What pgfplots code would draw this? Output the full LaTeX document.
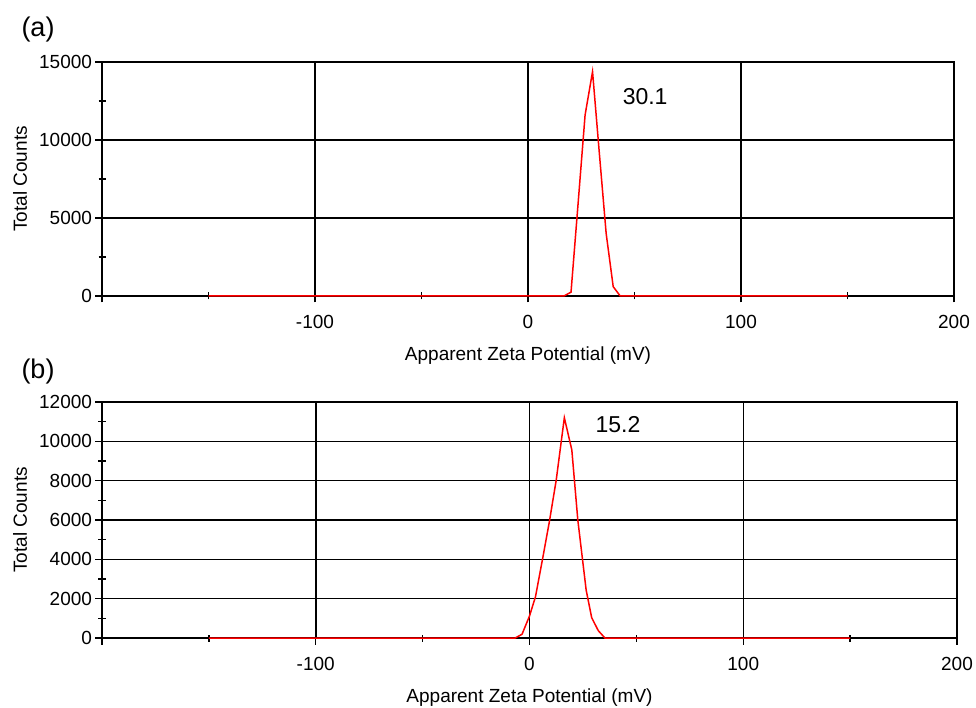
\documentclass[border=0pt]{standalone}
\usepackage{fontspec}
\setmainfont{Liberation Sans}
\usepackage{pgfplots}
\pgfplotsset{compat=1.18}
\pgfplotsset{zstyle/.style={
  scale only axis, xmin=-200, xmax=200,
  xtick={-200,-100,0,100,200}, xticklabels={,-100,0,100,200},
  minor x tick num=1, minor y tick num=1,
  scaled y ticks=false,
  grid=major, major grid style={black, line width=1.5pt},
  axis line style={black, line width=1.5pt},
  every tick/.style={black, line width=1.4pt},
  tick align=center, major tick length=13pt, minor tick length=7pt,
  xtick pos=bottom, ytick pos=left,
  ticklabel style={font=\fontsize{19}{21}\selectfont},
  xticklabel style={yshift=-9pt},
  label style={font=\fontsize{19}{21}\selectfont},
  /pgf/number format/assume math mode=true,
  /pgf/number format/1000 sep={},
  xlabel={Apparent Zeta Potential (mV)},
  ylabel={Total Counts},
  xlabel style={at={(axis description cs:0.5,0)}, anchor=center, yshift=-60pt},
  clip=false,
}}
\begin{document}
\begin{tikzpicture}
\useasboundingbox (0,0) rectangle (976pt,707pt);
\begin{axis}[zstyle, at={(102pt,411pt)}, anchor=south west,
  width=852pt, height=234pt, ymin=0, ymax=15000,
  ytick={0,5000,10000,15000},
  ylabel style={at={(axis description cs:-0.0962,0.5)}, anchor=center}]
\addplot[red, line width=1.5pt] coordinates {
(-150,0) (16.9,0) (20.2,250) (23.5,5900) (26.8,11600) (30.3,14380)
(33.4,9300) (36.7,4000) (40.0,600) (43.3,0) (150,0)};
\node[font=\fontsize{23}{26}\selectfont] at (axis cs:55,12760) {30.1};
\end{axis}
\begin{axis}[zstyle, at={(102pt,69pt)}, anchor=south west,
  width=855pt, height=236pt, ymin=0, ymax=12000,
  ytick={0,2000,4000,6000,8000,10000,12000},
  ylabel style={at={(axis description cs:-0.0959,0.5)}, anchor=center}]
\addplot[red, line width=1.5pt] coordinates {
(-150,0) (-6.7,0) (-3.5,190) (0,1120) (2.8,2100) (6.3,4130) (9.3,5920)
(12.5,8030) (16.3,11200) (19.8,9560) (22.6,6000) (26.5,2440) (29.1,1030)
(32.2,370) (35.3,0) (150,0)};
\node[font=\fontsize{23}{26}\selectfont] at (axis cs:41.4,10830) {15.2};
\end{axis}
\node[font=\fontsize{27}{30}\selectfont] at (38pt,677pt) {(a)};
\node[font=\fontsize{27}{30}\selectfont] at (38pt,335.5pt) {(b)};
\end{tikzpicture}
\end{document}
